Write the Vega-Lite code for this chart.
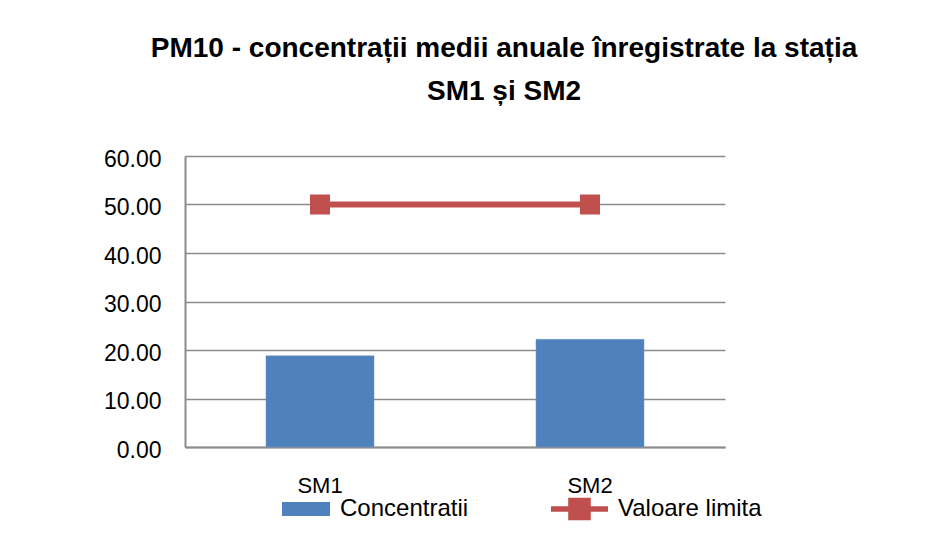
{
  "$schema": "https://vega.github.io/schema/vega-lite/v6.json",
  "width": 540,
  "height": 291,
  "autosize": "none",
  "padding": {"left": 185, "top": 156, "right": 205, "bottom": 86},
  "background": "white",
  "config": {
    "font": "Liberation Sans",
    "view": {"stroke": null}
  },
  "title": {
    "text": ["PM10 - concentrații medii anuale înregistrate la stația", "SM1 și SM2"],
    "font": "Liberation Sans",
    "fontSize": 28,
    "fontWeight": "bold",
    "color": "#000000",
    "anchor": "middle",
    "dx": 49,
    "lineHeight": 43,
    "offset": 42
  },
  "data": {
    "values": [
      {"statie": "SM1", "concentratii": 18.8, "limita": 50},
      {"statie": "SM2", "concentratii": 22.2, "limita": 50}
    ]
  },
  "encoding": {
    "x": {
      "field": "statie",
      "type": "nominal",
      "scale": {"paddingInner": 0.6, "paddingOuter": 0.3},
      "axis": {
        "title": null,
        "labelAngle": 0,
        "labelFontSize": 22,
        "labelColor": "#000000",
        "labelPadding": 28,
        "ticks": false,
        "domainColor": "#8c8c8c",
        "domainWidth": 2
      }
    }
  },
  "layer": [
    {
      "mark": {"type": "bar", "stroke": "#6f97c9", "strokeWidth": 0.5},
      "encoding": {
        "y": {
          "field": "concentratii",
          "type": "quantitative",
          "scale": {"domain": [0, 60], "nice": false},
          "axis": {
            "title": null,
            "values": [0, 10, 20, 30, 40, 50, 60],
            "format": ".2f",
            "labelFontSize": 23,
            "labelColor": "#000000",
            "labelPadding": 24,
            "labelOffset": 3,
            "ticks": false,
            "domainColor": "#8c8c8c",
            "domainWidth": 2,
            "gridColor": "#8c8c8c",
            "gridWidth": 1.6
          }
        },
        "fill": {
          "datum": "Concentratii",
          "scale": {"range": ["#4f81bd"]},
          "legend": {
            "title": null,
            "orient": "none",
            "legendX": 97,
            "legendY": 329,
            "padding": 0,
            "symbolType": "M-1,-0.29H1V0.29H-1Z",
            "symbolSize": 2304,
            "symbolStrokeWidth": 0,
            "symbolOpacity": 1,
            "labelFontSize": 24,
            "labelColor": "#000000",
            "labelOffset": 10
          }
        }
      }
    },
    {
      "mark": {"type": "line", "strokeWidth": 6, "color": "#c0504d"},
      "encoding": {
        "y": {"field": "limita", "type": "quantitative"},
        "stroke": {
          "datum": "Valoare limita",
          "scale": {"range": ["#c0504d"]},
          "legend": {
            "title": null,
            "orient": "none",
            "legendX": 363,
            "legendY": 321.5,
            "padding": 0,
            "symbolType": "M-1,0H1M-0.3,-0.3H0.3V0.3H-0.3Z",
            "symbolSize": 3249,
            "symbolStrokeWidth": 5.5,
            "symbolFillColor": "#c0504d",
            "labelFontSize": 24,
            "labelColor": "#000000",
            "labelOffset": 7,
            "encode": {"symbols": {"update": {"fill": {"value": "#c0504d"}}}}
          }
        }
      }
    },
    {
      "mark": {"type": "point", "shape": "square", "size": 400, "filled": true, "color": "#c0504d", "opacity": 1},
      "encoding": {
        "y": {"field": "limita", "type": "quantitative"}
      }
    }
  ]
}
